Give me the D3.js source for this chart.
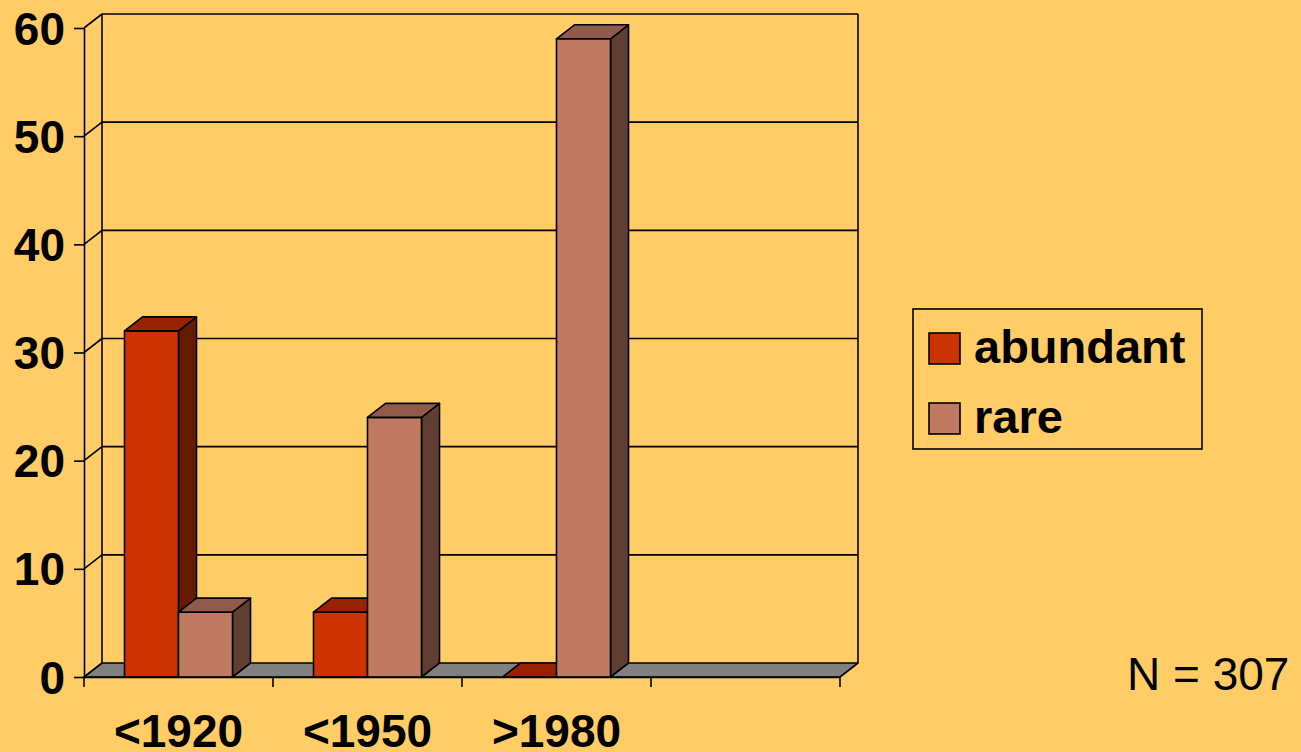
<!DOCTYPE html>
<html>
<head>
<meta charset="utf-8">
<script src="https://cdn.jsdelivr.net/npm/d3@7"></script>
<style>
  html, body { margin: 0; padding: 0; background: #FFCC66; }
  svg { display: block; font-family: Arial, "Liberation Sans", sans-serif; }
</style>
</head>
<body>
<svg id="chart" width="1301" height="752"></svg>
<script>
// data
const categories = ["<1920", "<1950", ">1980", ""];
const seriesNames = ["abundant", "rare"];
const abundant = [32, 6, 0, null];
const rare = [6, 24, 59, null];
const yTicks = [0, 10, 20, 30, 40, 50, 60];
const noteText = "N = 307";

const colors = {
    abundant: {front: "#CC3300", top: "#992200", side: "#661A00"},
    rare: {front: "#C07A62", top: "#915B4B", side: "#613E33"}
};

// layout
const plot = {left: 84, right: 840, bottom: 677, top: 28};
const depth = {dx: 18, dy: -14};

const svg = d3.select("#chart");

const x = d3.scaleBand()
    .domain(categories)
    .range([plot.left, plot.right])
    .paddingInner(0)
    .paddingOuter(0);

const xs = d3.scaleBand()
    .domain(seriesNames)
    .range([0, x.bandwidth()])
    .paddingInner(0)
    .paddingOuter(0.75);

const y = d3.scaleLinear()
    .domain([0, 60])
    .range([plot.bottom, plot.top]);

const lineStyle = sel => sel.attr("stroke", "#000").attr("stroke-width", 1.6).attr("fill", "none");

// back wall + left wall gridlines
const grid = svg.append("g");
yTicks.filter(d => d > 0).forEach(v => {
    grid.append("line")
        .attr("x1", plot.left + depth.dx).attr("x2", plot.right + depth.dx)
        .attr("y1", y(v) + depth.dy).attr("y2", y(v) + depth.dy)
        .call(lineStyle);
    grid.append("line")
        .attr("x1", plot.left).attr("x2", plot.left + depth.dx)
        .attr("y1", y(v)).attr("y2", y(v) + depth.dy)
        .call(lineStyle);
});
// wall verticals
[plot.left + depth.dx, plot.right + depth.dx].forEach(xx => {
    grid.append("line")
        .attr("x1", xx).attr("x2", xx)
        .attr("y1", y(60) + depth.dy).attr("y2", y(0) + depth.dy)
        .call(lineStyle);
});

// floor
svg.append("polygon")
    .attr("points", [
        [plot.left, y(0)], [plot.right, y(0)],
        [plot.right + depth.dx, y(0) + depth.dy], [plot.left + depth.dx, y(0) + depth.dy]
    ].map(p => p.join(",")).join(" "))
    .attr("fill", "#808080")
    .attr("stroke", "#000")
    .attr("stroke-width", 1.6)
    .attr("stroke-linejoin", "round");

// bars
const bars = [];
categories.forEach((c, i) => {
    [["abundant", abundant[i]], ["rare", rare[i]]].forEach(([s, v]) => {
        if (v == null) return;
        bars.push({cat: c, series: s, value: v});
    });
});

const pts = arr => arr.map(p => p.join(",")).join(" ");
const barG = svg.append("g");
bars.forEach(d => {
    const x0 = x(d.cat) + xs(d.series);
    const x1 = x0 + xs.bandwidth();
    const yt = y(d.value);
    const yb = y(0);
    const col = colors[d.series];
    const g = barG.append("g")
        .attr("stroke", "#000")
        .attr("stroke-width", 1.6)
        .attr("stroke-linejoin", "round");
    if (d.value > 0) {
        g.append("polygon")
            .attr("points", pts([[x1, yt], [x1 + depth.dx, yt + depth.dy], [x1 + depth.dx, yb + depth.dy], [x1, yb]]))
            .attr("fill", col.side);
        g.append("rect")
            .attr("x", x0).attr("y", yt)
            .attr("width", x1 - x0).attr("height", yb - yt)
            .attr("fill", col.front);
    }
    g.append("polygon")
        .attr("points", pts([[x0, yt], [x1, yt], [x1 + depth.dx, yt + depth.dy], [x0 + depth.dx, yt + depth.dy]]))
        .attr("fill", col.top);
});

// y axis
const yAxis = d3.axisLeft(y)
    .tickValues(yTicks)
    .tickSize(10)
    .tickPadding(9)
    .tickSizeOuter(0);
const yG = svg.append("g")
    .attr("transform", `translate(${plot.left},0)`)
    .call(yAxis);
yG.select(".domain").attr("stroke", "#000").attr("stroke-width", 1.6);
yG.selectAll(".tick line").attr("stroke", "#000").attr("stroke-width", 1.6);
yG.selectAll(".tick text")
    .attr("fill", "#000")
    .attr("font-size", 46)
    .attr("font-weight", "bold")
    .attr("dy", "0.35em");

// x axis
const xAxis = d3.axisBottom(x)
    .tickSize(0)
    .tickSizeOuter(0)
    .tickPadding(0);
const xG = svg.append("g")
    .attr("transform", `translate(0,${plot.bottom})`)
    .call(xAxis);
xG.select(".domain").attr("stroke", "#000").attr("stroke-width", 1.6);
xG.selectAll(".tick text")
    .attr("fill", "#000")
    .attr("font-size", 46)
    .attr("font-weight", "bold")
    .attr("y", 70)
    .attr("dy", 0);
// tick marks at band boundaries
const bounds = categories.map(c => x(c)).concat([plot.right]);
xG.selectAll(".bound")
    .data(bounds)
    .enter()
    .append("line")
    .attr("class", "bound")
    .attr("x1", d => d).attr("x2", d => d)
    .attr("y1", 0).attr("y2", 10)
    .attr("stroke", "#000").attr("stroke-width", 1.6);

// legend
const legend = svg.append("g").attr("transform", "translate(913,309)");
legend.append("rect")
    .attr("width", 289).attr("height", 140)
    .attr("fill", "#FFCC66")
    .attr("stroke", "#000")
    .attr("stroke-width", 1.6);
seriesNames.forEach((s, i) => {
    const row = legend.append("g").attr("transform", `translate(16,${24 + i * 70})`);
    row.append("rect")
        .attr("width", 31).attr("height", 31)
        .attr("fill", colors[s].front)
        .attr("stroke", "#000")
        .attr("stroke-width", 1.6);
    row.append("text")
        .attr("x", 45).attr("y", 30)
        .attr("font-size", 47)
        .attr("font-weight", "bold")
        .attr("fill", "#000")
        .text(s);
});

// note
svg.append("text")
    .attr("x", 1127).attr("y", 690)
    .attr("font-size", 46)
    .attr("fill", "#000")
    .text(noteText);
</script>
</body>
</html>
